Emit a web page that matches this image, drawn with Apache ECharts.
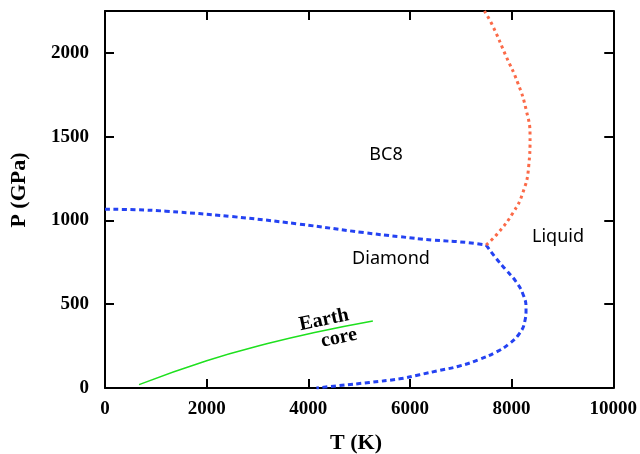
<!DOCTYPE html>
<html>
<head>
<meta charset="utf-8">
<script src="https://cdn.jsdelivr.net/npm/echarts@6/dist/echarts.min.js"></script>
<style>
  html, body { margin: 0; padding: 0; background: #fff; }
  #main { width: 640px; height: 454px; }
</style>
</head>
<body>
<div id="main"></div>
<script>
// phase boundaries of carbon, T in K, P in GPa
// diamond / BC8 boundary, up to the triple point
var diamondBc8T = [0, 600, 1200, 2500, 3800, 5100, 5800, 6450, 7100, 7500];
var diamondBc8P = [1067, 1064, 1055, 1023, 979, 927, 903, 883, 869, 853];

// diamond melting line, from the triple point down to P = 0
var meltT = [7500, 7695, 7892, 8088, 8232, 8284, 8257, 8153, 7957, 7695, 7367, 6974, 6582, 6189, 5796, 5200, 4600, 4160];
var meltP = [853, 774, 704, 634, 554, 474, 394, 325, 265, 214, 171, 131, 105, 79, 55, 33, 14, 0];

// BC8 melting line
var bc8T = [7500, 7727, 8022, 8218, 8336, 8363, 8285, 8120, 7890, 7630, 7466];
var bc8P = [853, 923, 1043, 1163, 1322, 1502, 1662, 1822, 1981, 2160, 2250];

// Earth core
var coreT = [670, 2000, 3200, 4100, 5270];
var coreP = [20, 163, 265, 330, 400];

function pairs(xs, ys) {
    return xs.map(function (x, i) { return [x, ys[i]]; });
}

var myChart = echarts.init(document.getElementById('main'));

var serif = 'Liberation Serif';

function labels(margin, showMax) {
    return {
        fontFamily: serif, fontWeight: 'bold', fontSize: 19, color: '#000',
        margin: margin, showMaxLabel: showMax,
        formatter: function (v) { return String(v); }
    };
}
var axLine = { show: true, onZero: false, lineStyle: { color: '#000', width: 2 } };
var axTick = { show: true, inside: true, length: 9, lineStyle: { color: '#000', width: 2 } };

var blue = { color: '#2442f2', width: 3, type: [5, 3.5] };

option = {
    animation: false,
    grid: { left: 105, right: 26, top: 11, bottom: 66 },
    xAxis: [
        {
            type: 'value', min: 0, max: 10000, interval: 2000, position: 'bottom',
            axisLine: axLine, axisTick: axTick, splitLine: { show: false },
            axisLabel: labels(12, true)
        },
        {
            type: 'value', min: 0, max: 10000, interval: 2000, position: 'top',
            axisLine: axLine, axisTick: axTick, splitLine: { show: false },
            axisLabel: { show: false }
        }
    ],
    yAxis: [
        {
            type: 'value', min: 0, max: 2250, interval: 500, position: 'left',
            axisLine: axLine, axisTick: axTick, splitLine: { show: false },
            axisLabel: labels(16, false)
        },
        {
            type: 'value', min: 0, max: 2250, interval: 500, position: 'right',
            axisLine: axLine, axisTick: axTick, splitLine: { show: false },
            axisLabel: { show: false }
        }
    ],
    series: [
        {
            type: 'line', smooth: 0.5, showSymbol: false, silent: true,
            data: pairs(coreT, coreP),
            lineStyle: { color: '#1ee01e', width: 1.5 }
        },
        {
            type: 'line', smooth: 0.5, showSymbol: false, silent: true,
            data: pairs(diamondBc8T, diamondBc8P),
            lineStyle: blue
        },
        {
            type: 'line', smooth: 0.5, showSymbol: false, silent: true,
            data: pairs(meltT, meltP),
            lineStyle: blue
        },
        {
            type: 'line', smooth: 0.5, showSymbol: false, silent: true,
            data: pairs(bc8T, bc8P),
            lineStyle: { color: '#fb6a48', width: 3, type: [3, 3.5] }
        }
    ],
    graphic: [
        { type: 'text', x: 356, y: 443, style: { text: 'T (K)', font: 'bold 22px "Liberation Serif"', fill: '#000', align: 'center', verticalAlign: 'middle' } },
        { type: 'text', x: 19, y: 190, rotation: Math.PI / 2, style: { text: 'P (GPa)', font: 'bold 22px "Liberation Serif"', fill: '#000', align: 'center', verticalAlign: 'middle' } },
        { type: 'text', x: 386, y: 155, style: { text: 'BC8', font: '18px "Noto Sans"', fill: '#000', align: 'center', verticalAlign: 'middle' } },
        { type: 'text', x: 391, y: 259, style: { text: 'Diamond', font: '18px "Noto Sans"', fill: '#000', align: 'center', verticalAlign: 'middle' } },
        { type: 'text', x: 558, y: 237, style: { text: 'Liquid', font: '18px "Noto Sans"', fill: '#000', align: 'center', verticalAlign: 'middle' } },
        { type: 'text', x: 324, y: 320, rotation: 12 * Math.PI / 180, style: { text: 'Earth', font: 'bold 20px "Liberation Serif"', fill: '#000', align: 'center', verticalAlign: 'middle' } },
        { type: 'text', x: 339, y: 338, rotation: 12 * Math.PI / 180, style: { text: 'core', font: 'bold 20px "Liberation Serif"', fill: '#000', align: 'center', verticalAlign: 'middle' } }
    ]
};

myChart.setOption(option);
</script>
</body>
</html>
